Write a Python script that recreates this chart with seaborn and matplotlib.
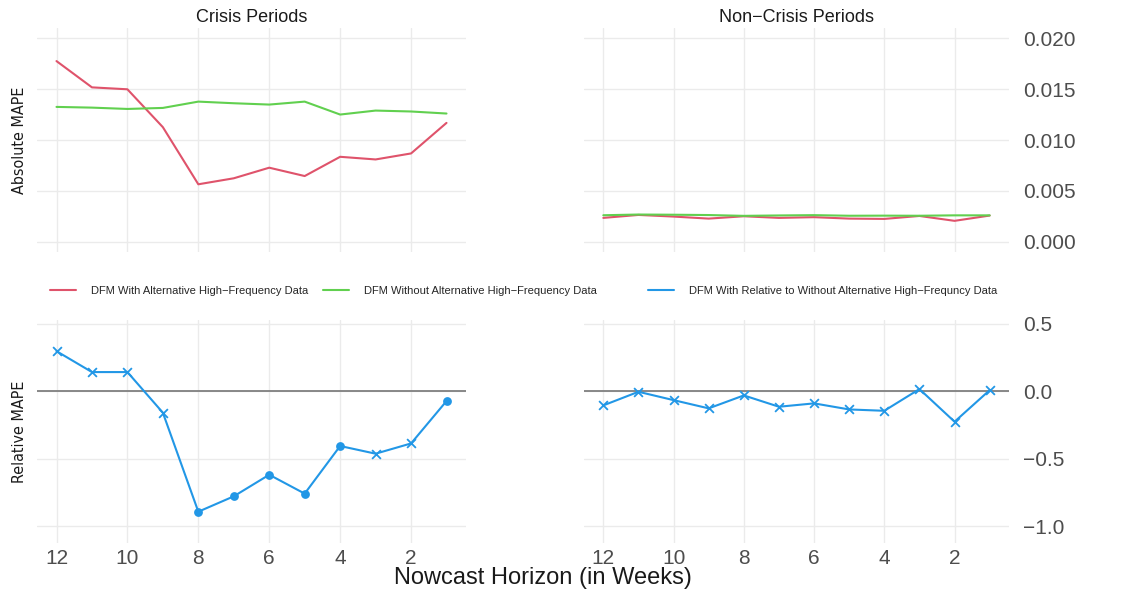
import numpy as np
import pandas as pd
import matplotlib
matplotlib.use("Agg")
import matplotlib.pyplot as plt
from matplotlib import font_manager as fm
from matplotlib.lines import Line2D
import seaborn as sns

# Nowcast horizons (weeks before release)
horizon = [12, 11, 10, 9, 8, 7, 6, 5, 4, 3, 2, 1]

# Absolute MAPE, crisis periods
crisis_with = [0.01775, 0.01517, 0.01498, 0.01126, 0.00565, 0.00624,
               0.00728, 0.00646, 0.00835, 0.00809, 0.00868, 0.01168]
crisis_without = [0.01325, 0.01318, 0.01305, 0.01315, 0.01377, 0.01361,
                  0.01348, 0.01377, 0.01250, 0.01289, 0.01280, 0.01260]

# Absolute MAPE, non-crisis periods
noncrisis_with = [0.00235, 0.00264, 0.00248, 0.00228, 0.00251, 0.00235,
                  0.00242, 0.00228, 0.00225, 0.00254, 0.00206, 0.00258]
noncrisis_without = [0.00261, 0.00268, 0.00266, 0.00263, 0.00255, 0.00259,
                     0.00262, 0.00256, 0.00257, 0.00256, 0.00260, 0.00260]

# Relative MAPE (with relative to without)
crisis_rel = [0.296, 0.141, 0.141, -0.160, -0.894, -0.780,
              -0.620, -0.760, -0.407, -0.464, -0.388, -0.074]
noncrisis_rel = [-0.106, -0.005, -0.067, -0.128, -0.032, -0.116,
                 -0.091, -0.136, -0.146, 0.015, -0.227, 0.007]
# Significant differences are drawn as dots, the rest as crosses
crisis_sig = [False, False, False, False, True, True,
              True, True, True, False, False, True]
noncrisis_sig = [False] * 12

series_names = ["DFM With Alternative High\u2212Frequency Data",
                "DFM Without Alternative High\u2212Frequency Data",
                "DFM With Relative to Without Alternative High\u2212Frequncy Data"]
panel_titles = ["Crisis Periods", "Non\u2212Crisis Periods"]

RED, GREEN, BLUE = "#DF536B", "#61D04F", "#2297E6"

sns.set_theme(style="white")
plt.rcParams["font.family"] = ["Liberation Sans", "DejaVu Sans"]

fig = plt.figure(figsize=(11.26, 5.94), dpi=100)
W, H = 1126, 594


def add_ax(x0, y0, x1, y1):
    return fig.add_axes([x0 / W, 1 - y1 / H, (x1 - x0) / W, (y1 - y0) / H])


ax_tl = add_ax(37, 28, 466, 252)
ax_tr = add_ax(584, 28, 1009, 252)
ax_bl = add_ax(37, 320, 466, 543)
ax_br = add_ax(584, 320, 1009, 543)

abs_frames = []
for with_vals, without_vals in [(crisis_with, crisis_without),
                                (noncrisis_with, noncrisis_without)]:
    abs_frames.append(pd.DataFrame({
        "horizon": horizon * 2,
        "mape": with_vals + without_vals,
        "model": [series_names[0]] * 12 + [series_names[1]] * 12,
    }))

palette = {series_names[0]: RED, series_names[1]: GREEN}
for ax, df, title in [(ax_tl, abs_frames[0], panel_titles[0]),
                      (ax_tr, abs_frames[1], panel_titles[1])]:
    sns.lineplot(data=df, x="horizon", y="mape", hue="model",
                 palette=palette, linewidth=1.5, ax=ax, legend=False)
    ax.set_ylim(-0.001, 0.021)
    ax.set_yticks([0.0, 0.005, 0.010, 0.015, 0.020])
    ax.set_yticklabels(["0.000", "0.005", "0.010", "0.015", "0.020"])
    ax.set_title(title, fontsize=13, color="#1A1A1A", pad=4)

rel_frames = [pd.DataFrame({"horizon": horizon, "rel": crisis_rel, "sig": crisis_sig}),
              pd.DataFrame({"horizon": horizon, "rel": noncrisis_rel, "sig": noncrisis_sig})]

for ax, df in [(ax_bl, rel_frames[0]), (ax_br, rel_frames[1])]:
    ax.axhline(0, color="#7F7F7F", linewidth=1.3, zorder=1)
    sns.lineplot(data=df, x="horizon", y="rel", color=BLUE, linewidth=1.5,
                 ax=ax, legend=False, zorder=3)
    crosses = df[~df["sig"]]
    dots = df[df["sig"]]
    if len(crosses):
        sns.scatterplot(data=crosses, x="horizon", y="rel", color=BLUE,
                        marker="x", s=40, linewidth=1.3, ax=ax, legend=False,
                        zorder=4)
    if len(dots):
        sns.scatterplot(data=dots, x="horizon", y="rel", color=BLUE,
                        marker="o", s=40, linewidth=0, ax=ax, legend=False,
                        zorder=4)
    ax.set_ylim(-1.126, 0.527)
    ax.set_yticks([-1.0, -0.5, 0.0, 0.5])
    ax.set_yticklabels(["\u22121.0", "\u22120.5", "0.0", "0.5"])

for ax in [ax_tl, ax_tr, ax_bl, ax_br]:
    ax.set_xlim(12.55, 0.45)
    ax.set_xticks([12, 10, 8, 6, 4, 2])
    ax.grid(True, color="#EBEBEB", linewidth=1.0)
    ax.set_axisbelow(True)
    for s in ax.spines.values():
        s.set_visible(False)
    ax.tick_params(length=0, labelsize=15, colors="#4D4D4D")
    ax.set_xlabel("")
    ax.set_ylabel("")

for ax in [ax_tl, ax_tr]:
    ax.set_xticklabels([])
for ax in [ax_tl, ax_bl]:
    ax.set_yticklabels([])
for ax in [ax_tr, ax_br]:
    ax.yaxis.tick_right()
    ax.tick_params(axis="y", pad=10)
for ax in [ax_bl, ax_br]:
    ax.tick_params(axis="x", pad=4)


# Axis titles on the left are set in a condensed face when one is available
def pick_condensed():
    for fam, stretch in [("Liberation Sans Narrow", "normal"),
                         ("DejaVu Sans", "condensed"),
                         ("Roboto Condensed", "normal"),
                         ("Open Sans Condensed", "normal")]:
        prop = fm.FontProperties(family=fam, stretch=stretch)
        try:
            path = fm.findfont(prop, fallback_to_default=False)
        except ValueError:
            continue
        if "ondensed" in path or "arrow" in path:
            return prop, 11.5
    return fm.FontProperties(family="Liberation Sans"), 11


ylab_prop, ylab_size = pick_condensed()
ylab_prop.set_size(ylab_size)
fig.text(20 / W, 1 - 140 / H, "Absolute MAPE", rotation=90, ha="center",
         va="center", fontproperties=ylab_prop, color="#1A1A1A")
fig.text(20 / W, 1 - 432 / H, "Relative MAPE", rotation=90, ha="center",
         va="center", fontproperties=ylab_prop, color="#1A1A1A")
fig.text(543 / W, 1 - 578 / H, "Nowcast Horizon (in Weeks)", ha="center",
         va="center", fontsize=17, color="#1A1A1A")

# Legend entries, one per series, set along a single row
legend_x = [50, 323, 648]
for name, color, x in zip(series_names, (RED, GREEN, BLUE), legend_x):
    fig.legend([Line2D([], [], color=color, linewidth=1.5)], [name],
               loc="center left", bbox_to_anchor=(x / W, 1 - 291 / H),
               frameon=False, fontsize=8, handlelength=2.34,
               handletextpad=1.35, borderpad=0, borderaxespad=0)

fig.savefig("out.png", dpi=100, facecolor="white")
